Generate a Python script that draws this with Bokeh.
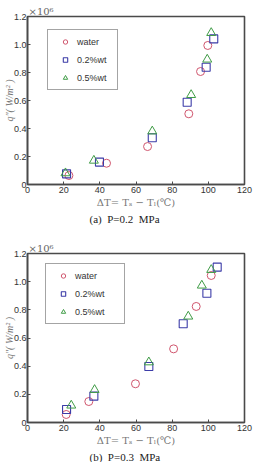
from bokeh.plotting import figure
from bokeh.models import Legend, LegendItem, Title, FixedTicker, CustomJSTickFormatter
from bokeh.layouts import column
from bokeh.embed import file_html
from bokeh.resources import INLINE

# Panel (a) P=0.2 MPa
a_water_x = [22.9, 43.7, 66.4, 89.2, 95.7, 99.7]
a_water_y = [0.064, 0.152, 0.271, 0.505, 0.807, 0.993]
a_w02_x = [21.6, 39.8, 69.0, 88.3, 98.8, 103.0]
a_w02_y = [0.076, 0.160, 0.334, 0.588, 0.838, 1.040]
a_w05_x = [21.0, 36.7, 69.0, 90.5, 99.4, 101.6]
a_w05_y = [0.081, 0.171, 0.380, 0.640, 0.893, 1.083]

# Panel (b) P=0.3 MPa
b_water_x = [21.4, 33.9, 59.7, 80.8, 93.3, 101.6]
b_water_y = [0.057, 0.149, 0.275, 0.523, 0.824, 1.044]
b_w02_x = [21.6, 36.7, 67.1, 86.1, 99.2, 104.9]
b_w02_y = [0.092, 0.187, 0.398, 0.701, 0.918, 1.103]
b_w05_x = [24.2, 37.1, 67.1, 88.9, 96.4, 101.6]
b_w05_y = [0.121, 0.232, 0.428, 0.753, 0.973, 1.084]

x_ticks = [0, 20, 40, 60, 80, 100, 120]
y_ticks = [0, 0.2, 0.4, 0.6, 0.8, 1.0, 1.2]
series_names = ["water", "0.2%wt", "0.5%wt"]
captions = ["(a)\u00a0 P=0.2\u00a0 MPa", "(b)\u00a0 P=0.3\u00a0 MPa"]
x_title = "ΔT= Tₛ − Tₗ(℃)"
y_title = "q″( W/m² )"
scale_text = "×10⁶"

RED = "#d0566e"
BLUE = "#3c3ca8"
GREEN = "#3f9c46"
FRAME = "#4a4a4a"
SANS = "Liberation Sans"


def make_panel(wx, wy, bx, by, gx, gy, caption, top, bottom, leg_loc, leg_label_w):
    p = figure(width=254, height=231, x_range=(0, 120), y_range=(0, 1.2),
               output_backend="svg", toolbar_location=None,
               min_border_left=10, min_border_right=10,
               min_border_top=top, min_border_bottom=bottom)
    p.grid.visible = False
    p.outline_line_color = FRAME
    p.outline_line_width = 1.6
    for ax in (p.xaxis[0], p.yaxis[0]):
        ax.axis_line_color = FRAME
        ax.axis_line_width = 1.6
        ax.major_tick_in = 3
        ax.major_tick_out = 0
        ax.minor_tick_line_color = None
        ax.major_tick_line_color = FRAME
        ax.major_label_text_font = SANS
        ax.major_label_text_font_size = "9px"
        ax.major_label_text_color = "#333333"
        ax.axis_label_text_font_style = "normal"
        ax.axis_label_text_color = "#777777"
    p.xaxis.ticker = FixedTicker(ticks=x_ticks)
    p.yaxis.ticker = FixedTicker(ticks=y_ticks)
    p.xaxis.major_label_standoff = 2
    p.yaxis.major_label_standoff = 1
    p.yaxis.formatter = CustomJSTickFormatter(
        code="return tick == 0 ? '0' : tick.toFixed(1);")
    p.xaxis.axis_label = x_title
    p.xaxis.axis_label_text_font = "DejaVu Serif"
    p.xaxis.axis_label_text_font_size = "10px"
    p.xaxis.axis_label_standoff = 1
    p.yaxis.axis_label = y_title
    p.yaxis.axis_label_text_font = "Liberation Serif"
    p.yaxis.axis_label_text_font_style = "italic"
    p.yaxis.axis_label_text_font_size = "10px"
    p.yaxis.axis_label_text_line_height = 0.8
    p.yaxis.axis_label_standoff = -4

    p.title.text = scale_text
    p.title.align = "left"
    p.title.offset = 1
    p.title.standoff = 0
    p.title.text_font = "DejaVu Serif"
    p.title.text_font_style = "normal"
    p.title.text_font_size = "10px"
    p.title.text_color = "#666666"

    cap = Title(text=caption, align="left", offset=62, standoff=0,
                text_font="Liberation Serif", text_font_style="normal",
                text_font_size="11px", text_color="#222222")
    p.add_layout(cap, "below")

    r1 = p.scatter(wx, wy, marker="circle", size=8, fill_color=None,
                   line_color=RED, line_width=1)
    r2 = p.scatter(bx, by, marker="square", size=8, fill_color=None,
                   line_color=BLUE, line_width=1.1)
    r3 = p.scatter(gx, gy, marker="triangle", size=9, fill_color=None,
                   line_color=GREEN, line_width=1)

    legend = Legend(items=[LegendItem(label=series_names[0], renderers=[r1]),
                           LegendItem(label=series_names[1], renderers=[r2]),
                           LegendItem(label=series_names[2], renderers=[r3])],
                    location=leg_loc)
    legend.border_line_color = FRAME
    legend.border_line_width = 1.4
    legend.padding = 6
    legend.spacing = 7
    legend.glyph_height = 11
    legend.label_height = 11
    legend.glyph_width = 22
    legend.label_standoff = 1
    legend.label_width = leg_label_w
    legend.label_text_font = SANS
    legend.label_text_font_size = "9px"
    legend.label_text_color = "#333333"
    p.add_layout(legend)
    return p


p1 = make_panel(a_water_x, a_water_y, a_w02_x, a_w02_y, a_w05_x, a_w05_y,
                captions[0], 16, 47, (20, 94), 34)
p2 = make_panel(b_water_x, b_water_y, b_w02_x, b_w02_y, b_w05_x, b_w05_y,
                captions[1], 22, 40, (18, 98), 43)

layout = column(p1, p2, spacing=0)
open("out.html", "w").write(file_html(layout, INLINE))
